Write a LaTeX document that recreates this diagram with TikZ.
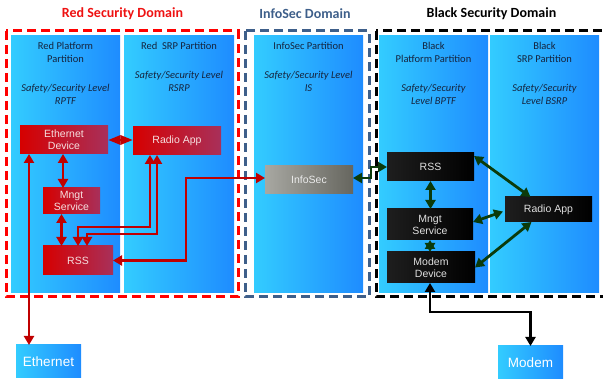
\documentclass[tikz,border=0pt]{standalone}
\usepackage{fontspec}
\setmainfont{Carlito}
\newfontfamily\arialf{Liberation Sans}
\usetikzlibrary{arrows.meta}
\definecolor{partL}{HTML}{33CCFF}
\definecolor{partR}{HTML}{1E8CFF}
\definecolor{redL}{HTML}{D60000}
\definecolor{redR}{HTML}{A8305A}
\definecolor{blkL}{HTML}{1E1E1E}
\definecolor{blkR}{HTML}{000000}
\definecolor{grayL}{HTML}{A8A8A2}
\definecolor{grayR}{HTML}{66665F}
\definecolor{redline}{HTML}{C00000}
\definecolor{grn}{HTML}{0B3B0B}
\definecolor{infoblue}{HTML}{3E5F8A}
\definecolor{txtc}{HTML}{15243E}
\definecolor{redtxt}{HTML}{F6E0E0}
\definecolor{titlered}{HTML}{EE1111}
\begin{document}
\begin{tikzpicture}[x=1pt,y=-1pt,
  part/.style={rectangle,left color=partL,right color=partR,inner sep=0,outer sep=0,minimum height=257},
  ptext/.style={text=txtc,align=center,inner sep=0,font=\fontsize{10.5}{13}\selectfont},
  pital/.style={ptext,font=\fontsize{10.5}{13}\selectfont\itshape},
  boxnode/.style={rectangle,inner sep=0,outer sep=0,align=center,font=\arialf\fontsize{10.5}{12}\selectfont},
  rednode/.style={boxnode,left color=redL,right color=redR,text=redtxt},
  blknode/.style={boxnode,left color=blkL,right color=blkR,text=white!88!black},
  graynode/.style={boxnode,left color=grayL,right color=grayR,text=white!92!black},
  extnode/.style={boxnode,left color=partL,right color=partR,text=white,font=\arialf\fontsize{13.5}{15}\selectfont,minimum width=65,minimum height=33},
  domainbox/.style={line width=3pt,dash pattern=on 9pt off 5pt},
  titlef/.style={font=\bfseries\fontsize{14}{16}\selectfont,inner sep=0},
  redc/.style={draw=redline,line width=2.8pt,<->,>={Triangle[length=9pt,width=10pt]}},
  grnc/.style={draw=grn,line width=2.8pt,<->,>={Triangle[length=9pt,width=10pt]}},
  blkc/.style={draw=black,line width=2.8pt,<->,>={Triangle[length=9pt,width=10pt]}}
]
\useasboundingbox (0,0) rectangle (603,379);
\clip (0,0) rectangle (603,379);

% titles
\node[titlef,text=titlered] (t1) at (122.5,14) {Red Security Domain};
\node[titlef,text=infoblue] (t2) at (305,14) {InfoSec Domain};
\node[titlef,text=black] (t3) at (491.5,14) {Black Security Domain};

% partitions
\node[part,minimum width=109] (p1) at (65.5,164.5) {};
\node[part,minimum width=110] (p2) at (179,164.5) {};
\node[part,minimum width=109] (p3) at (308.5,164.5) {};
\node[part,minimum width=109] (p4) at (433.5,164.5) {};
\node[part,minimum width=109] (p5) at (544.5,164.5) {};

% domains
\draw[domainbox,draw=red] (6,31) rectangle (238,297);
\draw[domainbox,draw=infoblue] (245,31) rectangle (369,297);
\draw[domainbox,draw=black] (376,31) rectangle (615,297);

% partition texts
\node[ptext] (p1a) at (65.5,52) {Red Platform\\Partition};
\node[pital] (p1b) at (65.5,94) {Safety/Security Level\\RPTF};
\node[ptext] (p2a) at (179,45.5) {Red\ \ SRP Partition};
\node[pital] (p2b) at (179,81.5) {Safety/Security Level\\RSRP};
\node[ptext] (p3a) at (308.5,46) {InfoSec Partition};
\node[pital] (p3b) at (308.5,81.5) {Safety/Security Level\\IS};
\node[ptext] (p4a) at (433.5,52) {Black\\Platform Partition};
\node[pital] (p4b) at (433.5,94) {Safety/Security\\Level BPTF};
\node[ptext] (p5a) at (544.5,52) {Black\\SRP Partition};
\node[pital] (p5b) at (544.5,94) {Safety/Security\\Level BSRP};

% red nodes
\node[rednode,minimum width=88,minimum height=28] (ethdev) at (64,140) {Ethernet\\Device};
\node[rednode,minimum width=88,minimum height=28] (radioR) at (177,141) {Radio App};
\node[rednode,minimum width=57,minimum height=26] (mngtR) at (71.5,201) {Mngt\\Service};
\node[rednode,minimum width=70,minimum height=29] (rssR) at (78,260.5) {RSS};
\node[graynode,minimum width=88,minimum height=28] (infosec) at (309,180) {InfoSec};
% black nodes
\node[blknode,minimum width=87,minimum height=28] (rssB) at (430.5,167) {RSS};
\node[blknode,minimum width=86,minimum height=31] (mngtB) at (430,224.5) {Mngt\\Service};
\node[blknode,minimum width=88,minimum height=31] (modemDev) at (431,267.5) {Modem\\Device};
\node[blknode,minimum width=87,minimum height=25] (radioB) at (548.5,209.5) {Radio App};
% external
\node[extnode] (ethernet) at (48.5,361.5) {Ethernet};
\node[extnode] (modem) at (530.5,362.5) {Modem};

% red connectors
\draw[redc] ([xshift=-35pt]ethdev.south) -- ([xshift=-35pt]ethdev.south |- ethernet.north);
\draw[redc] ([xshift=-1pt]ethdev.south) -- ([xshift=-1pt]ethdev.south |- mngtR.north);
\draw[redc] ([xshift=-10pt]mngtR.south) -- ([xshift=-10pt]mngtR.south |- rssR.north);
\draw[redc,>={Triangle[length=12.5pt,width=9pt]}] (ethdev.east) -- (ethdev.east -| radioR.west);
\draw[redc] ([xshift=-27pt]radioR.south) -- ++(0,72) -| (rssR.north);
\draw[redc] ([xshift=-20pt]radioR.south) -- ++(0,79) -| ([xshift=9pt]rssR.north);
\draw[redc] (rssR.east) -- ++(73,0) |- ([yshift=2pt]infosec.west);
% green connectors
\draw[grnc] ([yshift=2pt]infosec.east) -- ++(18,0) |- (rssB.west);
\draw[grnc] (rssB.south) -- (rssB.south |- mngtB.north);
\draw[grnc] (mngtB.south) -- (mngtB.south |- modemDev.north);
\draw[grnc] ([yshift=-3pt]rssB.north east) -- ([xshift=-18pt]radioB.north);
\draw[grnc] ([yshift=2.5pt]mngtB.east) -- ([xshift=-2pt,yshift=-2pt]radioB.west);
\draw[grnc] (modemDev.east) -- ([xshift=-17pt]radioB.south);
% black connector
\draw[blkc] ([xshift=-1pt]modemDev.south) -- ++(0,29) -| (modem.north);
\end{tikzpicture}
\end{document}
